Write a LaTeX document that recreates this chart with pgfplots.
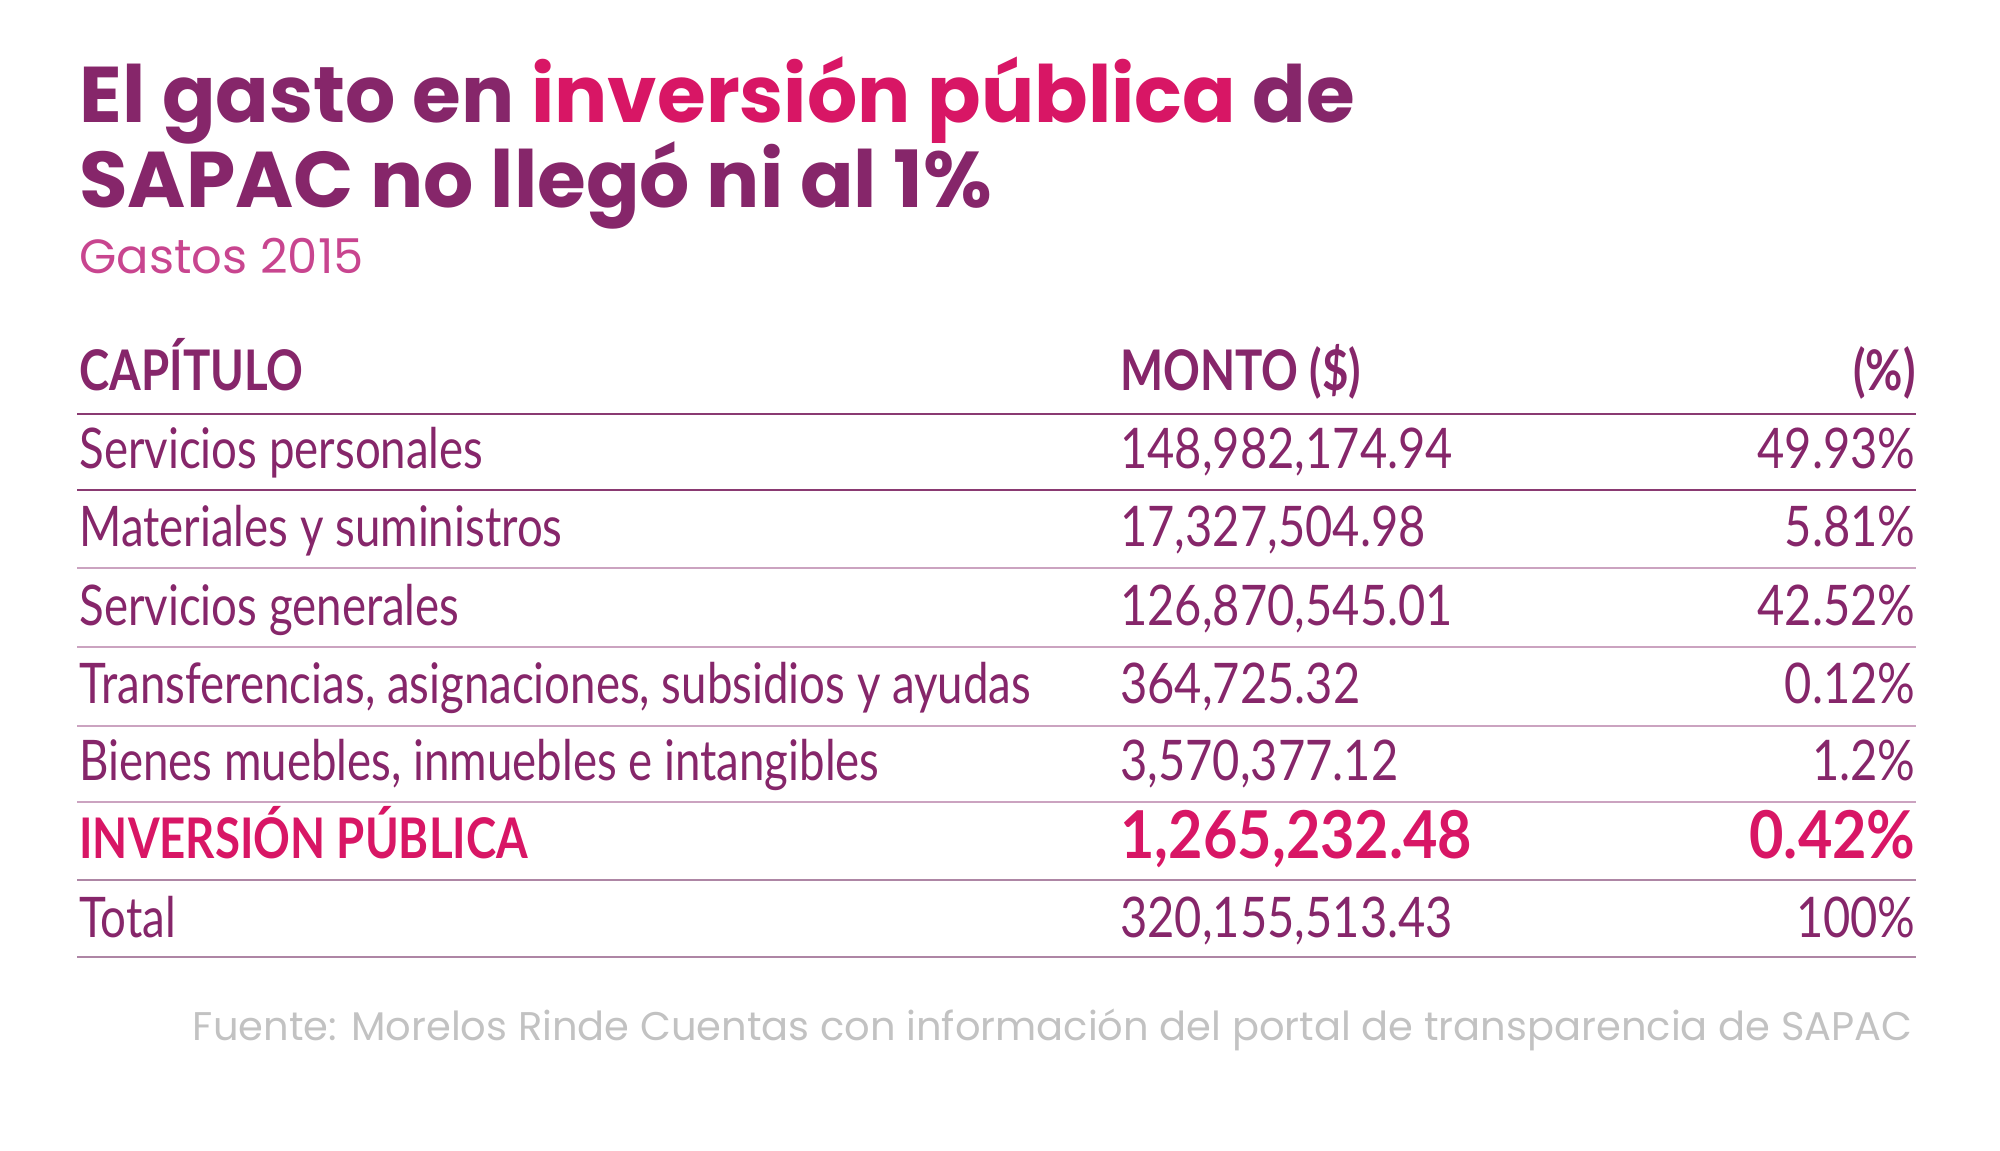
\documentclass[border=0pt]{standalone}
\usepackage{pgfplots}
\pgfplotsset{compat=1.18}
\usepackage{fontspec}
\setmainfont{Lato}
\newfontfamily\titlefont{Poppins}
\newfontfamily\tabfont{Lato}[FakeStretch=0.814]
\newfontfamily\numfont{Lato}[FakeStretch=0.84]
\newfontfamily\bignumfont{Lato}[FakeStretch=0.90]
\definecolor{purp}{HTML}{86266A}
\definecolor{mag}{HTML}{D81665}
\definecolor{subpink}{HTML}{C8458F}
\definecolor{srcgray}{HTML}{C2C2C2}
\definecolor{lineDark}{HTML}{8A3A72}
\definecolor{lineLight}{HTML}{CBA3C0}
\definecolor{lineMid}{HTML}{AE86A5}
\newcommand{\tabsize}{\fontsize{28}{28}\selectfont}
\newcommand{\bigsize}{\fontsize{33}{33}\selectfont}
\begin{document}
\begin{tikzpicture}
\begin{axis}[
  width=1000pt, height=575pt, scale only axis,
  xmin=0, xmax=2000, ymin=0, ymax=1150, y dir=reverse,
  hide axis, clip=false,
]
\addplot[draw=none, forget plot] coordinates {(0,0) (2000,1150)};
% separator lines
\addplot[lineDark, line width=1.1pt] coordinates {(77,414) (1916,414)};
\addplot[lineDark, line width=1.1pt] coordinates {(77,490) (1916,490)};
\addplot[lineLight, line width=1.3pt] coordinates {(77,568) (1916,568)};
\addplot[lineLight, line width=1.3pt] coordinates {(77,647) (1916,647)};
\addplot[lineLight, line width=1.3pt] coordinates {(77,726) (1916,726)};
\addplot[lineLight, line width=1.3pt] coordinates {(77,802) (1916,802)};
\addplot[lineMid, line width=1.3pt] coordinates {(77,880) (1916,880)};
\addplot[lineMid, line width=1.3pt] coordinates {(77,957) (1916,957)};

% title
\node[anchor=base west, inner sep=0, text=purp] at (axis cs:79,123)
  {\titlefont\bfseries\fontsize{39.5}{39.5}\selectfont El gasto en \textcolor{mag}{inversión pública} de};
\node[anchor=base west, inner sep=0, text=purp] at (axis cs:79,207)
  {\titlefont\bfseries\fontsize{39.5}{39.5}\selectfont SAPAC no llegó ni al 1\%};
\node[anchor=base west, inner sep=0, text=subpink] at (axis cs:79,273)
  {\titlefont\fontsize{24}{24}\selectfont Gastos 2015};

% header
\node[anchor=base west, inner sep=0, text=purp] at (axis cs:79,390) {\tabfont\bfseries\tabsize CAPÍTULO};
\node[anchor=base west, inner sep=0, text=purp] at (axis cs:1120,390) {\tabfont\bfseries\tabsize MONTO (\$)};
\node[anchor=base east, inner sep=0, text=purp] at (axis cs:1916,390) {\tabfont\bfseries\tabsize (\%)};

% rows
\node[anchor=base west, inner sep=0, text=purp] at (axis cs:79,468) {\tabfont\tabsize Servicios personales};
\node[anchor=base west, inner sep=0, text=purp] at (axis cs:1120,468) {\numfont\tabsize 148,982,174.94};
\node[anchor=base east, inner sep=0, text=purp] at (axis cs:1916,468) {\numfont\tabsize 49.93\%};

\node[anchor=base west, inner sep=0, text=purp] at (axis cs:79,546) {\tabfont\tabsize Materiales y suministros};
\node[anchor=base west, inner sep=0, text=purp] at (axis cs:1120,546) {\numfont\tabsize 17,327,504.98};
\node[anchor=base east, inner sep=0, text=purp] at (axis cs:1916,546) {\numfont\tabsize 5.81\%};

\node[anchor=base west, inner sep=0, text=purp] at (axis cs:79,625) {\tabfont\tabsize Servicios generales};
\node[anchor=base west, inner sep=0, text=purp] at (axis cs:1120,625) {\numfont\tabsize 126,870,545.01};
\node[anchor=base east, inner sep=0, text=purp] at (axis cs:1916,625) {\numfont\tabsize 42.52\%};

\node[anchor=base west, inner sep=0, text=purp] at (axis cs:79,703) {\tabfont\tabsize Transferencias, asignaciones, subsidios y ayudas};
\node[anchor=base west, inner sep=0, text=purp] at (axis cs:1120,703) {\numfont\tabsize 364,725.32};
\node[anchor=base east, inner sep=0, text=purp] at (axis cs:1916,703) {\numfont\tabsize 0.12\%};

\node[anchor=base west, inner sep=0, text=purp] at (axis cs:79,780) {\tabfont\tabsize Bienes muebles, inmuebles e intangibles};
\node[anchor=base west, inner sep=0, text=purp] at (axis cs:1120,780) {\numfont\tabsize 3,570,377.12};
\node[anchor=base east, inner sep=0, text=purp] at (axis cs:1916,780) {\numfont\tabsize 1.2\%};

\node[anchor=base west, inner sep=0, text=mag] at (axis cs:79,858) {\tabfont\bfseries\tabsize INVERSIÓN PÚBLICA};
\node[anchor=base west, inner sep=0, text=mag] at (axis cs:1120,858) {\bignumfont\bfseries\bigsize 1,265,232.48};
\node[anchor=base east, inner sep=0, text=mag] at (axis cs:1916,858) {\bignumfont\bfseries\bigsize 0.42\%};

\node[anchor=base west, inner sep=0, text=purp] at (axis cs:79,937) {\tabfont\tabsize Total};
\node[anchor=base west, inner sep=0, text=purp] at (axis cs:1120,937) {\numfont\tabsize 320,155,513.43};
\node[anchor=base east, inner sep=0, text=purp] at (axis cs:1916,937) {\numfont\tabsize 100\%};

% source
\node[anchor=base east, inner sep=0, text=srcgray] at (axis cs:1913,1040)
  {\titlefont\fontsize{20}{20}\selectfont Fuente: Morelos Rinde Cuentas con información del portal de transparencia de SAPAC};
\end{axis}
\end{tikzpicture}
\end{document}
